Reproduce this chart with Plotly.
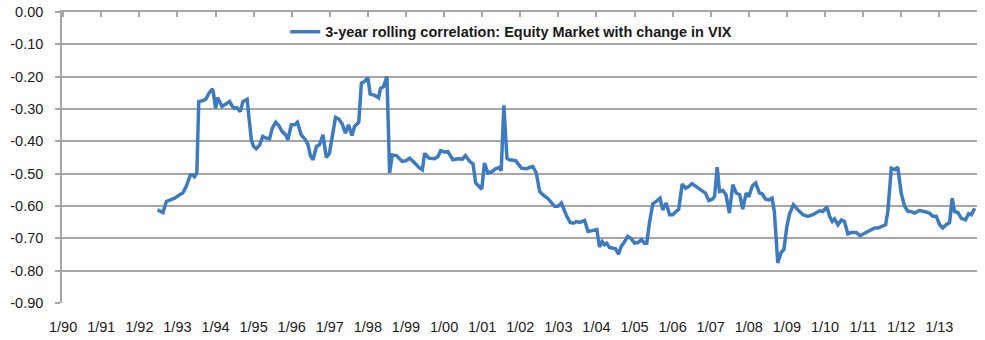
import plotly.graph_objects as go

# decimal year of each reading and the rolling correlation value
years = [1992.48, 1992.62, 1992.71, 1992.80, 1992.93, 1993.06, 1993.14, 1993.23, 1993.34, 1993.41,
         1993.45, 1993.51, 1993.56, 1993.67, 1993.74, 1993.83, 1993.92, 1993.95, 1994.00, 1994.06,
         1994.11, 1994.17, 1994.24, 1994.37, 1994.44, 1994.50, 1994.56, 1994.65, 1994.72, 1994.83,
         1994.89, 1994.94, 1995.00, 1995.07, 1995.16, 1995.24, 1995.33, 1995.42, 1995.49, 1995.58,
         1995.66, 1995.75, 1995.84, 1995.90, 1995.99, 1996.08, 1996.15, 1996.25, 1996.36, 1996.43,
         1996.49, 1996.56, 1996.65, 1996.73, 1996.82, 1996.91, 1996.99, 1997.15, 1997.24, 1997.33,
         1997.41, 1997.49, 1997.58, 1997.65, 1997.76, 1997.83, 1997.91, 1998.00, 1998.06, 1998.18,
         1998.28, 1998.33, 1998.41, 1998.50, 1998.57, 1998.64, 1998.75, 1998.90, 1998.99, 1999.10,
         1999.23, 1999.34, 1999.43, 1999.49, 1999.60, 1999.75, 1999.84, 1999.91, 2000.01, 2000.10,
         2000.23, 2000.36, 2000.48, 2000.56, 2000.67, 2000.76, 2000.83, 2000.92, 2000.99, 2001.06,
         2001.15, 2001.24, 2001.35, 2001.44, 2001.50, 2001.57, 2001.65, 2001.72, 2001.88, 2002.03,
         2002.16, 2002.24, 2002.33, 2002.42, 2002.51, 2002.59, 2002.72, 2002.90, 2002.99, 2003.08,
         2003.21, 2003.31, 2003.40, 2003.47, 2003.56, 2003.69, 2003.78, 2003.86, 2004.01, 2004.08,
         2004.15, 2004.21, 2004.27, 2004.34, 2004.41, 2004.50, 2004.58, 2004.65, 2004.74, 2004.82,
         2004.91, 2005.00, 2005.09, 2005.18, 2005.26, 2005.32, 2005.39, 2005.48, 2005.57, 2005.67,
         2005.74, 2005.83, 2005.92, 2006.00, 2006.09, 2006.16, 2006.25, 2006.34, 2006.42, 2006.51,
         2006.62, 2006.75, 2006.86, 2006.95, 2007.04, 2007.10, 2007.17, 2007.23, 2007.32, 2007.40,
         2007.49, 2007.58, 2007.67, 2007.76, 2007.84, 2007.93, 2008.00, 2008.09, 2008.18, 2008.28,
         2008.35, 2008.44, 2008.53, 2008.61, 2008.67, 2008.76, 2008.85, 2008.92, 2009.00, 2009.07,
         2009.17, 2009.29, 2009.42, 2009.55, 2009.68, 2009.86, 2009.94, 2010.05, 2010.12, 2010.19,
         2010.25, 2010.34, 2010.43, 2010.51, 2010.60, 2010.69, 2010.82, 2010.92, 2011.04, 2011.21,
         2011.30, 2011.39, 2011.48, 2011.59, 2011.65, 2011.74, 2011.83, 2011.91, 2012.00, 2012.09,
         2012.18, 2012.26, 2012.35, 2012.48, 2012.61, 2012.74, 2012.83, 2012.92, 2013.01, 2013.09,
         2013.18, 2013.27, 2013.34, 2013.40, 2013.49, 2013.58, 2013.69, 2013.77, 2013.84, 2013.93]

correlation = [-0.612, -0.620, -0.586, -0.581, -0.576, -0.565, -0.560, -0.540, -0.504, -0.504,
               -0.509, -0.498, -0.277, -0.274, -0.270, -0.251, -0.238, -0.254, -0.298, -0.265,
               -0.277, -0.292, -0.287, -0.277, -0.292, -0.298, -0.296, -0.308, -0.277, -0.270,
               -0.339, -0.395, -0.416, -0.423, -0.411, -0.385, -0.390, -0.392, -0.359, -0.341,
               -0.351, -0.370, -0.380, -0.395, -0.349, -0.349, -0.341, -0.380, -0.395, -0.411,
               -0.444, -0.457, -0.416, -0.411, -0.380, -0.450, -0.437, -0.326, -0.331, -0.347,
               -0.375, -0.349, -0.382, -0.354, -0.341, -0.220, -0.215, -0.203, -0.254, -0.258,
               -0.265, -0.236, -0.231, -0.200, -0.498, -0.442, -0.444, -0.462, -0.460, -0.452,
               -0.467, -0.481, -0.488, -0.437, -0.452, -0.454, -0.447, -0.429, -0.433, -0.432,
               -0.457, -0.454, -0.455, -0.444, -0.462, -0.470, -0.529, -0.540, -0.548, -0.467,
               -0.498, -0.495, -0.485, -0.481, -0.491, -0.289, -0.452, -0.457, -0.460, -0.483,
               -0.485, -0.481, -0.478, -0.498, -0.555, -0.565, -0.576, -0.601, -0.601, -0.591,
               -0.629, -0.651, -0.653, -0.648, -0.651, -0.645, -0.679, -0.677, -0.673, -0.727,
               -0.710, -0.720, -0.715, -0.728, -0.730, -0.732, -0.749, -0.725, -0.710, -0.694,
               -0.701, -0.715, -0.713, -0.704, -0.715, -0.715, -0.653, -0.593, -0.586, -0.576,
               -0.612, -0.591, -0.627, -0.627, -0.617, -0.610, -0.532, -0.545, -0.540, -0.531,
               -0.540, -0.552, -0.560, -0.583, -0.579, -0.571, -0.480, -0.555, -0.552, -0.565,
               -0.622, -0.534, -0.560, -0.565, -0.610, -0.560, -0.571, -0.538, -0.529, -0.560,
               -0.562, -0.579, -0.581, -0.576, -0.617, -0.776, -0.743, -0.735, -0.663, -0.624,
               -0.596, -0.612, -0.627, -0.632, -0.627, -0.615, -0.617, -0.603, -0.632, -0.648,
               -0.640, -0.658, -0.643, -0.648, -0.686, -0.682, -0.682, -0.692, -0.684, -0.673,
               -0.668, -0.668, -0.663, -0.658, -0.617, -0.483, -0.488, -0.480, -0.560, -0.601,
               -0.617, -0.617, -0.622, -0.614, -0.617, -0.622, -0.632, -0.632, -0.658, -0.668,
               -0.658, -0.651, -0.576, -0.617, -0.620, -0.638, -0.643, -0.624, -0.627, -0.607]

x_tick_years = list(range(1990, 2014))
x_tick_labels = ["1/%02d" % (y % 100) for y in x_tick_years]
y_tick_values = [0.0, -0.1, -0.2, -0.3, -0.4, -0.5, -0.6, -0.7, -0.8, -0.9]
y_tick_labels = ["0.00", "-0.10", "-0.20", "-0.30", "-0.40", "-0.50", "-0.60", "-0.70", "-0.80", "-0.90"]
series_name = "3-year rolling correlation: Equity Market with change in VIX"

FONT = "Liberation Sans, Arial, sans-serif"
GRID = "#A6A6A6"
XRANGE = [1989.97, 2013.99]

fig = go.Figure()
fig.add_trace(go.Scatter(
    x=years, y=correlation, mode="lines", name=series_name,
    line=dict(color="#3D7BC0", width=3.5),
))
# invisible companion trace so the top (tick-only) axis is drawn
fig.add_trace(go.Scatter(
    x=years[:1], y=correlation[:1], xaxis="x2", mode="markers",
    marker=dict(opacity=0), showlegend=False, hoverinfo="skip",
))

fig.update_layout(
    width=985, height=340,
    margin=dict(l=62, r=8, t=12, b=37, autoexpand=False),
    paper_bgcolor="white", plot_bgcolor="white",
    font=dict(family=FONT, size=14, color="#1A1A1A"),
    showlegend=True,
    legend=dict(
        x=0.491, xanchor="center", y=0.932, yanchor="middle",
        bgcolor="rgba(0,0,0,0)",
        font=dict(family=FONT, size=14.5, color="#1A1A1A", weight="bold"),
    ),
    xaxis=dict(
        range=XRANGE, tickvals=x_tick_years, ticktext=x_tick_labels,
        showgrid=False, zeroline=False, ticks="", showline=False,
        tickangle=0, ticklabelstandoff=13, automargin=False,
        tickfont=dict(family=FONT, size=14.5, color="#1A1A1A"),
    ),
    xaxis2=dict(
        overlaying="x", side="top", anchor="y", automargin=False,
        range=XRANGE, tickvals=x_tick_years, showticklabels=False,
        showgrid=False, zeroline=False, ticks="inside", ticklen=5,
        tickcolor=GRID, tickwidth=1.5, showline=True, linecolor=GRID, linewidth=1.5,
    ),
    yaxis=dict(
        range=[-0.9, 0.0], tickvals=y_tick_values, ticktext=y_tick_labels,
        showgrid=True, gridcolor=GRID, gridwidth=1.5, zeroline=False,
        showline=True, linecolor=GRID, linewidth=1.5,
        ticks="outside", ticklen=5, tickcolor=GRID, tickwidth=1.5,
        ticklabelstandoff=9, automargin=False,
        tickfont=dict(family=FONT, size=14.5, color="#1A1A1A"),
    ),
)

fig.write_html("out.html")
